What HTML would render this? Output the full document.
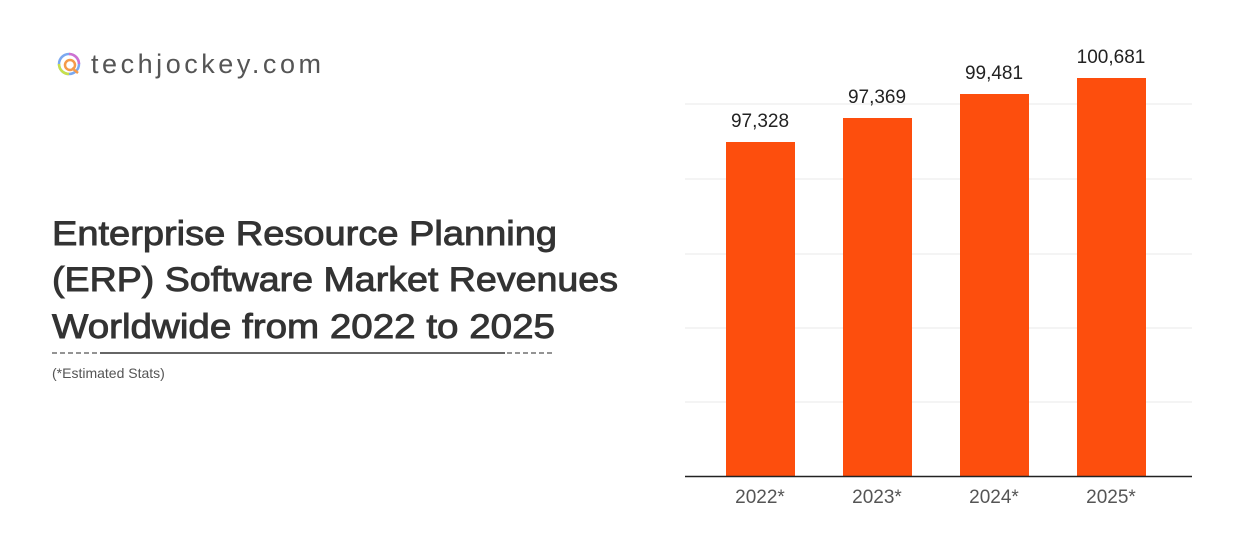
<!DOCTYPE html>
<html><head><meta charset="utf-8"><style>
html,body{margin:0;padding:0;background:#fff;}
svg{display:block;font-family:"Liberation Sans",sans-serif;}
</style></head><body>
<svg width="1240" height="535" viewBox="0 0 1240 535" xmlns="http://www.w3.org/2000/svg">
<rect width="1240" height="535" fill="#fff"/>
<circle cx="69" cy="64" r="10" fill="none" stroke="#7aa8f0" stroke-width="2.5"/>
<path d="M59 64 A10 10 0 0 0 69 74" fill="none" stroke="#c8e04a" stroke-width="2.5"/>
<path d="M69 54 A10 10 0 0 1 79 64" fill="none" stroke="#d070d0" stroke-width="2.5"/>
<circle cx="70" cy="65" r="5" fill="none" stroke="#f59a4a" stroke-width="2.5"/>
<path d="M72 68 L78 73" stroke="#f59a4a" stroke-width="2.5"/>
<text x="91" y="73" font-size="27" fill="#555" letter-spacing="2" textLength="232">techjockey.com</text>
<g fill="#333" stroke="#333" stroke-width="0.9" font-size="34">
<text x="52" y="245" textLength="505" lengthAdjust="spacingAndGlyphs">Enterprise Resource Planning</text>
<text x="52" y="291" textLength="566" lengthAdjust="spacingAndGlyphs">(ERP) Software Market Revenues</text>
<text x="52" y="338" textLength="503" lengthAdjust="spacingAndGlyphs">Worldwide from 2022 to 2025</text>
</g>
<line x1="52" y1="353" x2="100" y2="353" stroke="#555" stroke-width="1.2" stroke-dasharray="5,3"/>
<line x1="100" y1="353" x2="505" y2="353" stroke="#333" stroke-width="1.5"/>
<line x1="507" y1="353" x2="555" y2="353" stroke="#555" stroke-width="1.2" stroke-dasharray="5,3"/>
<text x="52" y="378" font-size="14" fill="#555">(*Estimated Stats)</text>
<g stroke="#e8e8e8" stroke-width="1">
<line x1="685" y1="104" x2="1192" y2="104"/>
<line x1="685" y1="179" x2="1192" y2="179"/>
<line x1="685" y1="254" x2="1192" y2="254"/>
<line x1="685" y1="328" x2="1192" y2="328"/>
<line x1="685" y1="402" x2="1192" y2="402"/>
</g>
<g fill="#fd4e0d">
<rect x="726" y="142" width="69" height="334"/>
<rect x="843" y="118" width="69" height="358"/>
<rect x="960" y="94" width="69" height="382"/>
<rect x="1077" y="78" width="69" height="398"/>
</g>
<line x1="685" y1="476.5" x2="1192" y2="476.5" stroke="#222" stroke-width="1.5"/>
<g font-size="19" fill="#222" text-anchor="middle">
<text x="760" y="127">97,328</text>
<text x="877" y="103">97,369</text>
<text x="994" y="79">99,481</text>
<text x="1111" y="63">100,681</text>
</g>
<g font-size="19" fill="#555" text-anchor="middle">
<text x="760" y="503">2022*</text>
<text x="877" y="503">2023*</text>
<text x="994" y="503">2024*</text>
<text x="1111" y="503">2025*</text>
</g>
</svg>
</body></html>
